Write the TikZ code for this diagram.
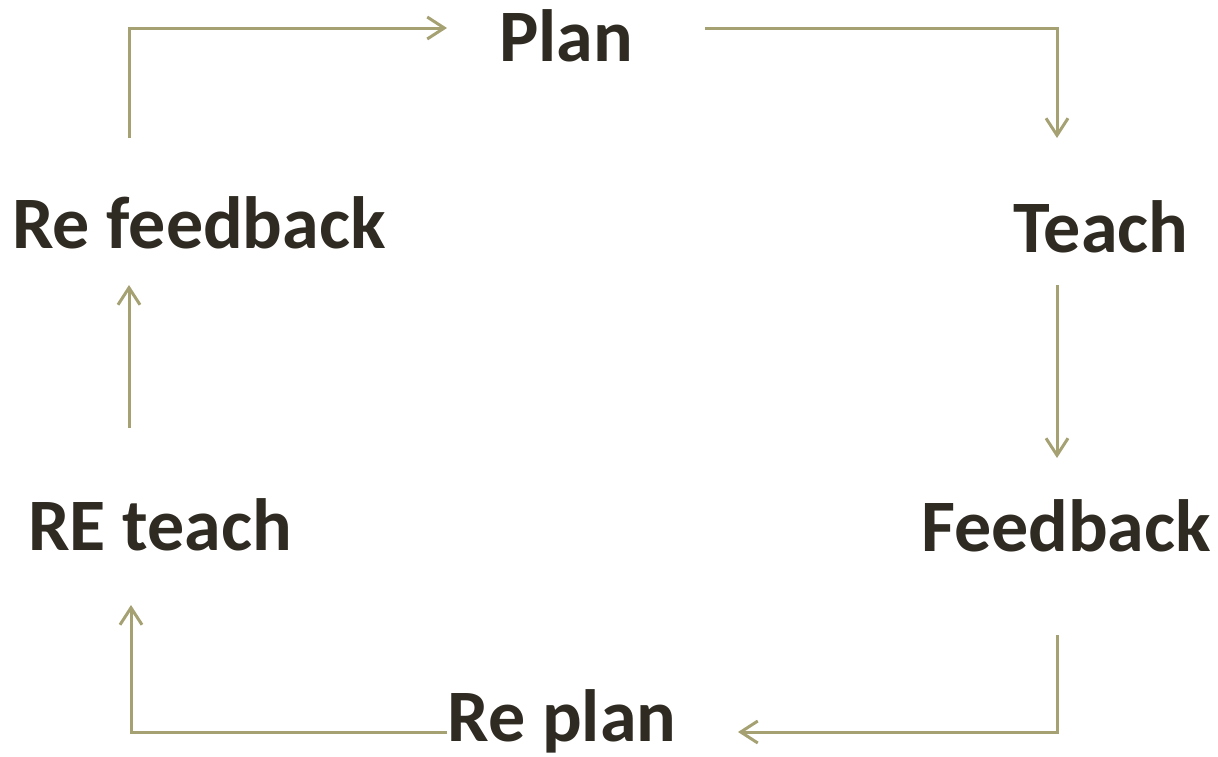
\documentclass[tikz,border=0pt]{standalone}
\usepackage{fontspec}
\setmainfont{Carlito}
\usetikzlibrary{arrows.meta}
\definecolor{txt}{HTML}{2F2B22}
\definecolor{ln}{HTML}{A5A173}
\tikzset{
  lbl/.style={inner sep=0pt, anchor=base, text=txt, font=\fontsize{74}{80}\selectfont\bfseries},
  conn/.style={draw=ln, line width=3pt, -{Straight Barb[length=17pt,width=22pt,line width=3pt]}}
}
\begin{document}
\begin{tikzpicture}[x=1pt,y=-1pt]
\useasboundingbox (0,0) rectangle (1218,756);
\node[lbl] (plan) at (566,61) {Plan};
\node[lbl] (teach) at (1101,252) {Teach};
\node[lbl] (refb) at (199,248) {Re feedback};
\node[lbl] (fb) at (1066,551) {Feedback};
\node[lbl] (reteach) at (160,550) {RE teach};
\node[lbl] (replan) at (562,741) {Re plan};
% connector end points
\coordinate (a1) at (129,138);
\coordinate (a2) at (447,28);
\coordinate (b1) at (705,28);
\coordinate (b2) at (1057,138);
\coordinate (c1) at (1057,285);
\coordinate (c2) at (1057,458);
\coordinate (d1) at (1057,635);
\coordinate (d2) at (738,732);
\coordinate (e1) at (replan.base west |- 0,732);
\coordinate (e2) at (131,605);
\coordinate (f1) at (129,428);
\coordinate (f2) at (129,285);
\draw[conn] (a1) |- (a2);
\draw[conn] (b1) -| (b2);
\draw[conn] (c1) -- (c2);
\draw[conn] (d1) |- (d2);
\draw[conn] (e1) -| (e2);
\draw[conn] (f1) -- (f2);
\end{tikzpicture}
\end{document}
